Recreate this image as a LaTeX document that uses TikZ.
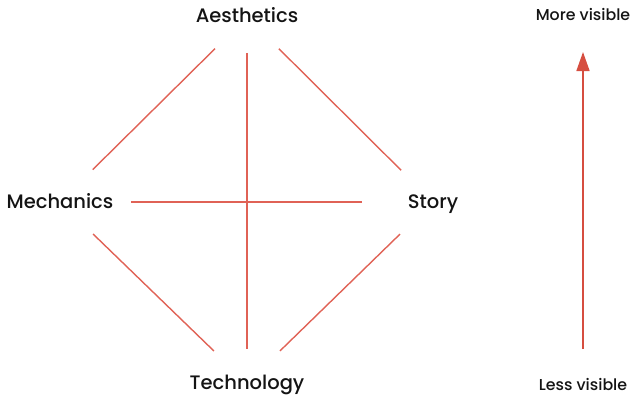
\documentclass[tikz,border=0pt]{standalone}
\usepackage{fontspec}
\setmainfont{Poppins}[UprightFont=* Medium]
\usetikzlibrary{arrows.meta}
\definecolor{linkred}{RGB}{224,98,86}
\definecolor{arrowred}{RGB}{214,78,64}
\definecolor{ink}{RGB}{20,20,20}
\begin{document}
\begin{tikzpicture}[x=1pt,y=1pt,
  big/.style={text=ink,font=\fontsize{19.5}{22}\selectfont,inner sep=0pt,
    text height=12pt,text depth=0pt},
  small/.style={text=ink,font=\fontsize{15.8}{18}\selectfont,inner sep=0pt,
    text height=8pt,text depth=0pt},
  link/.style={draw=linkred,line width=1.4pt},
  rise/.style={draw=arrowred,line width=1.6pt,-{Triangle[length=19pt,width=13pt]}}]
\useasboundingbox (0,0) rectangle (632,400);
\node[big] (aes) at (247,383) {Aesthetics};
\node[big] (mec) at (60,198) {Mechanics};
\node[big] (sto) at (433,198) {Story};
\node[big] (tec) at (247,17) {Technology};
\node[small] (more) at (583,383) {More visible};
\node[small] (less) at (583,14) {Less visible};
% diamond of links
\draw[link,shorten <=45pt,shorten >=46pt] (aes.center) -- (mec.center);
\draw[link,shorten <=45pt,shorten >=45pt] (aes.center) -- (sto.center);
\draw[link,shorten <=46pt,shorten >=46pt] (mec.center) -- (tec.center);
\draw[link,shorten <=46pt,shorten >=46pt] (sto.center) -- (tec.center);
% cross
\draw[link,shorten <=36pt,shorten >=34pt] (aes.center) -- (tec.center);
\draw[link,shorten <=71pt,shorten >=71pt] (mec.center) -- (sto.center);
% visibility scale
\draw[rise,shorten <=37pt,shorten >=35pt] (less.center) -- (more.center);
\end{tikzpicture}
\end{document}
